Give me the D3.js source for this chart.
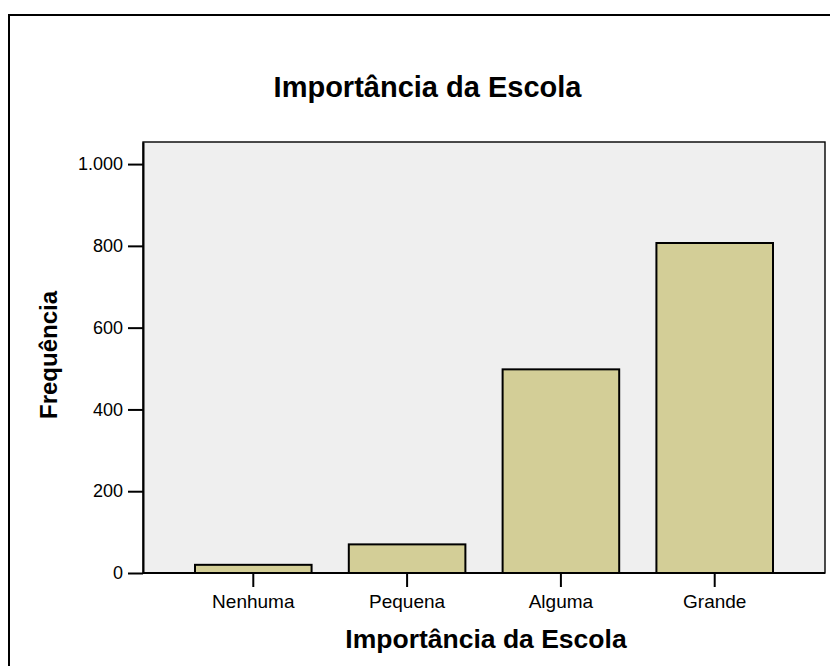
<!DOCTYPE html>
<html>
<head>
<meta charset="utf-8">
<script src="https://cdn.jsdelivr.net/npm/d3@7"></script>
<style>
  html, body { margin: 0; padding: 0; background: #fff; }
  svg { display: block; font-family: "Liberation Sans", Arial, Helvetica, sans-serif; }
</style>
</head>
<body>
<svg id="chart" width="830" height="666"></svg>
<script>
const categories = ["Nenhuma", "Pequena", "Alguma", "Grande"];
const frequencies = [20, 70, 498, 807];
const yTicks = [0, 200, 400, 600, 800, 1000];
const yTickLabels = ["0", "200", "400", "600", "800", "1.000"];
const title = "Importância da Escola";
const xLabel = "Importância da Escola";
const yLabel = "Frequência";

const svg = d3.select("#chart");
const W = 830, H = 666;
const plot = { left: 143, top: 142, right: 825, bottom: 573 };

// outer frame
svg.append("rect")
  .attr("x", 9).attr("y", 15)
  .attr("width", W + 20).attr("height", H + 20)
  .attr("fill", "#fff").attr("stroke", "#000").attr("stroke-width", 2);

// plot background
svg.append("rect")
  .attr("x", plot.left).attr("y", plot.top)
  .attr("width", plot.right - plot.left).attr("height", plot.bottom - plot.top)
  .attr("fill", "#efefef").attr("stroke", "#000").attr("stroke-width", 1.4);

const y = d3.scaleLinear().domain([0, 1054]).range([plot.bottom, plot.top]);
const x = d3.scaleBand().domain(categories)
  .range([plot.left + 52, plot.right - 52])
  .paddingInner(0.242).paddingOuter(0);

// bars
svg.append("g").selectAll("rect")
  .data(categories.map((c, i) => ({ c, v: frequencies[i] })))
  .join("rect")
  .attr("x", d => x(d.c))
  .attr("y", d => y(d.v))
  .attr("width", x.bandwidth())
  .attr("height", d => y(0) - y(d.v))
  .attr("fill", "#d3ce97")
  .attr("stroke", "#000")
  .attr("stroke-width", 2);

// y axis
const yAxis = d3.axisLeft(y)
  .tickValues(yTicks)
  .tickFormat((d, i) => yTickLabels[i])
  .tickSize(15).tickSizeOuter(0).tickPadding(5);
const gy = svg.append("g").attr("transform", `translate(${plot.left},0)`).call(yAxis);
gy.select(".domain").attr("stroke", "#000").attr("stroke-width", 2);
gy.selectAll(".tick line").attr("stroke", "#000").attr("stroke-width", 2);
gy.selectAll(".tick text").attr("font-size", 18).attr("fill", "#000")
  .attr("font-family", "Liberation Sans, Arial, sans-serif");

// x axis
const xAxis = d3.axisBottom(x).tickSize(14).tickSizeOuter(0).tickPadding(8);
const gx = svg.append("g").attr("transform", `translate(0,${plot.bottom})`).call(xAxis);
gx.select(".domain").remove();
svg.append("line")
  .attr("x1", plot.left).attr("x2", plot.right)
  .attr("y1", plot.bottom).attr("y2", plot.bottom)
  .attr("stroke", "#000").attr("stroke-width", 2);
gx.selectAll(".tick line").attr("stroke", "#000").attr("stroke-width", 2);
gx.selectAll(".tick text").attr("font-size", 19).attr("fill", "#000")
  .attr("font-family", "Liberation Sans, Arial, sans-serif");

// title
svg.append("text")
  .attr("x", 427.5).attr("y", 97)
  .attr("text-anchor", "middle")
  .attr("font-size", 29).attr("font-weight", "bold").attr("fill", "#000")
  .text(title);

// x label
svg.append("text")
  .attr("x", 486).attr("y", 648)
  .attr("text-anchor", "middle")
  .attr("font-size", 26.5).attr("font-weight", "bold").attr("fill", "#000")
  .text(xLabel);

// y label
svg.append("text")
  .attr("transform", "translate(57,355) rotate(-90)")
  .attr("text-anchor", "middle")
  .attr("font-size", 24).attr("font-weight", "bold").attr("fill", "#000")
  .text(yLabel);
</script>
</body>
</html>
